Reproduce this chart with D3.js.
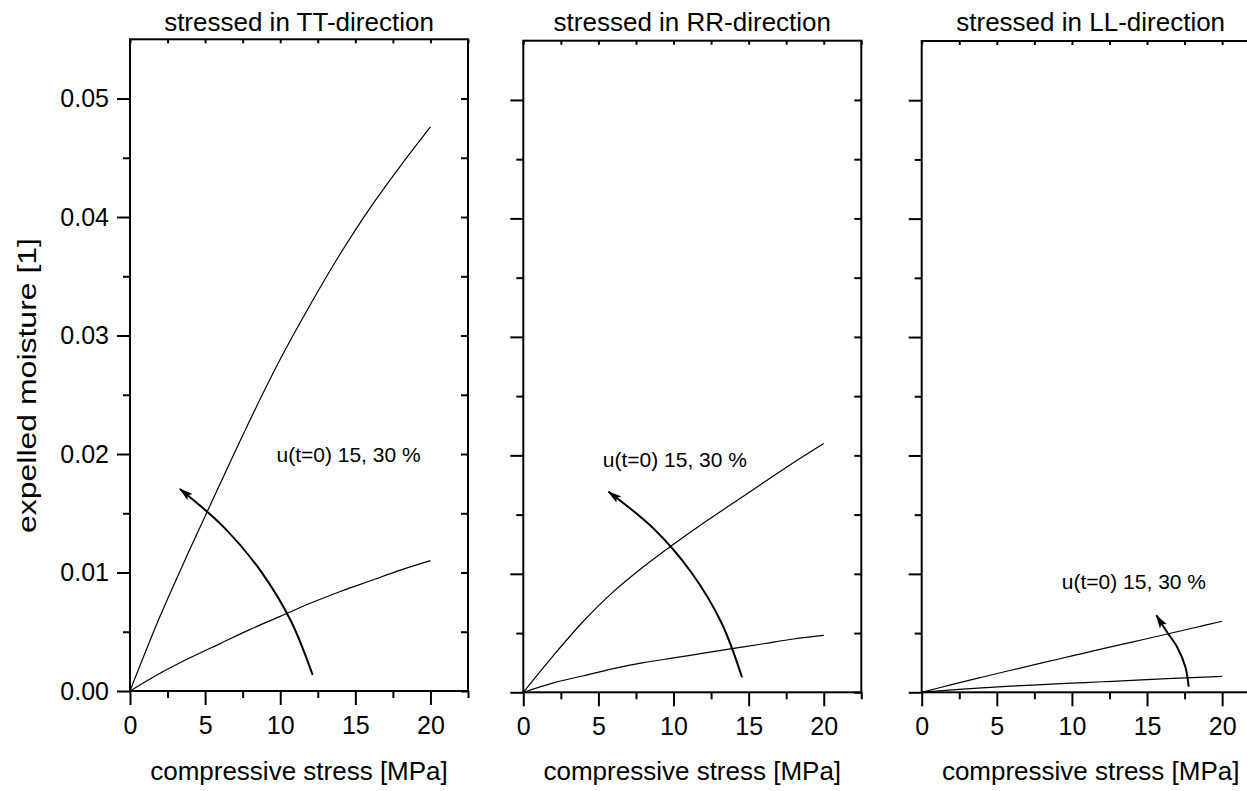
<!DOCTYPE html>
<html>
<head>
<meta charset="utf-8">
<script src="https://cdn.jsdelivr.net/npm/d3@7"></script>
<style>
  body { margin: 0; background: #fff; }
  svg { display: block; font-family: 'Liberation Sans', Arial, Helvetica, sans-serif; }
</style>
</head>
<body>
<div id="chart"></div>
<script>
const width = 1247;
const height = 791;

// compressive stress [MPa] at which the curves were read
const stress = [0, 2, 4, 6, 8, 10, 12, 14, 16, 18, 20];

// expelled moisture [1], two initial moisture contents per direction
const ttHigh = [0, 0.0063, 0.0120, 0.0175, 0.0229, 0.0280, 0.0326, 0.0369, 0.0408, 0.0443, 0.0476];
const ttLow = [0, 0.0015, 0.0028, 0.0040, 0.0052, 0.0063, 0.0074, 0.0084, 0.0093, 0.0102, 0.0110];
const rrHigh = [0, 0.0031, 0.0060, 0.0085, 0.0106, 0.0125, 0.0143, 0.0160, 0.0177, 0.0194, 0.0210];
const rrLow = [0, 0.0008, 0.0014, 0.0020, 0.0025, 0.0029, 0.0033, 0.0037, 0.0041, 0.0045, 0.0048];
const llHigh = [0, 0.00065, 0.00127, 0.00188, 0.00248, 0.00307, 0.00366, 0.00424, 0.00482, 0.00541, 0.00600];
const llLow = [0, 0.00021, 0.00038, 0.00052, 0.00065, 0.00077, 0.00089, 0.00100, 0.00113, 0.00124, 0.00135];

// curved arrows (stress, moisture), tail first
const arrowTT = [[12.16, 0.00135], [10.72, 0.00589], [8.74, 0.01006], [6.24, 0.01383], [3.32, 0.01705]];
const arrowRR = [[14.56, 0.00127], [13.19, 0.00587], [11.2, 0.01009], [8.67, 0.01382], [5.67, 0.01693]];
const arrowLL = [[17.77, 0.00047], [17.55, 0.00215], [17.0, 0.00383], [16.33, 0.00509], [15.62, 0.0065]];

const titles = ['stressed in TT-direction', 'stressed in RR-direction', 'stressed in LL-direction'];
const noteText = 'u(t=0) 15, 30 %';
const notePos = [[9.75, 0.0193], [5.29, 0.0190], [9.33, 0.0087]];

const xMajor = [0, 5, 10, 15, 20];
const xMinor = [2.5, 7.5, 12.5, 17.5, 22.5];
const yMajor = [0, 0.01, 0.02, 0.03, 0.04, 0.05];
const yMinor = [0.005, 0.015, 0.025, 0.035, 0.045];

const xLabel = 'compressive stress [MPa]';
const yLabel = 'expelled moisture [1]';

const panels = [
    { left: 130, top: 39.3, bottom: 691, high: ttHigh, low: ttLow, arrow: arrowTT },
    { left: 523.3, top: 40.7, bottom: 692.3, high: rrHigh, low: rrLow, arrow: arrowRR },
    { left: 921.7, top: 41, bottom: 692.3, high: llHigh, low: llLow, arrow: arrowLL }
];
const panelWidth = 338;

const svg = d3.select('#chart')
    .append('svg')
    .attr('width', width)
    .attr('height', height);

svg.append('rect').attr('width', width).attr('height', height).attr('fill', '#fff');

svg.append('defs')
    .append('marker')
    .attr('id', 'head')
    .attr('viewBox', '0 0 14 8')
    .attr('refX', 13)
    .attr('refY', 4)
    .attr('markerWidth', 14)
    .attr('markerHeight', 8)
    .attr('markerUnits', 'userSpaceOnUse')
    .attr('orient', 'auto')
    .append('path')
    .attr('d', 'M0,0 L14,4 L0,8 L3,4 Z')
    .attr('fill', '#000');

panels.forEach((p, i) => drawPanel(p, i));

// y label only once, left of first panel
svg.append('text')
    .attr('transform', 'translate(36,385.5) rotate(-90)')
    .attr('text-anchor', 'middle')
    .attr('textLength', 295)
    .attr('lengthAdjust', 'spacingAndGlyphs')
    .style('font-size', '26px')
    .text(yLabel);

function drawPanel(p, i) {
    const right = p.left + panelWidth;

    const xScale = d3.scaleLinear().domain([0, 22.5]).range([p.left, right]);
    const yScale = d3.scaleLinear().domain([0, 0.055]).range([p.bottom, p.top]);

    const g = svg.append('g').attr('class', 'panel');

    // bottom: outward ticks with labels
    g.append('g')
        .attr('transform', `translate(0,${p.bottom})`)
        .call(d3.axisBottom(xScale).tickValues(xMajor).tickSize(14).tickPadding(11).tickFormat(d3.format('d')))
        .call(styleAxis)
        .selectAll('text')
        .style('font-size', '25px');
    g.append('g')
        .attr('transform', `translate(0,${p.bottom})`)
        .call(d3.axisBottom(xScale).tickValues(xMinor).tickSize(7).tickFormat(''))
        .call(styleAxis);

    // top: small inward ticks
    g.append('g')
        .attr('transform', `translate(0,${p.top})`)
        .call(d3.axisBottom(xScale).tickValues(xMajor.concat(xMinor)).tickSize(4).tickFormat(''))
        .call(styleAxis);

    // left: outward ticks, labels only on the first panel
    const yAxis = d3.axisLeft(yScale).tickValues(yMajor).tickSize(13).tickPadding(8)
        .tickFormat(i === 0 ? d3.format('.2f') : '');
    g.append('g')
        .attr('transform', `translate(${p.left},0)`)
        .call(yAxis)
        .call(styleAxis)
        .selectAll('text')
        .style('font-size', '25px');
    g.append('g')
        .attr('transform', `translate(${p.left},0)`)
        .call(d3.axisLeft(yScale).tickValues(yMinor).tickSize(7).tickFormat(''))
        .call(styleAxis);

    // right: inward ticks
    g.append('g')
        .attr('transform', `translate(${right},0)`)
        .call(d3.axisLeft(yScale).tickValues(yMajor.concat(yMinor)).tickSize(7).tickFormat(''))
        .call(styleAxis);

    // frame
    g.append('rect')
        .attr('x', p.left)
        .attr('y', p.top)
        .attr('width', right - p.left)
        .attr('height', p.bottom - p.top)
        .attr('fill', 'none')
        .attr('stroke', '#000')
        .attr('stroke-width', 2);

    const line = d3.line()
        .x((d, k) => xScale(stress[k]))
        .y((d) => yScale(d))
        .curve(d3.curveCatmullRom);

    g.selectAll('path.curve')
        .data([p.high, p.low])
        .join('path')
        .attr('class', 'curve')
        .attr('d', line)
        .attr('fill', 'none')
        .attr('stroke', '#000')
        .attr('stroke-width', 1.2);

    const arrowLine = d3.line()
        .x((d) => xScale(d[0]))
        .y((d) => yScale(d[1]))
        .curve(d3.curveCatmullRom);

    g.append('path')
        .attr('d', arrowLine(p.arrow))
        .attr('fill', 'none')
        .attr('stroke', '#000')
        .attr('stroke-width', 2)
        .attr('marker-end', 'url(#head)');

    g.append('text')
        .attr('x', xScale(notePos[i][0]))
        .attr('y', yScale(notePos[i][1]))
        .style('font-size', '21px')
        .text(noteText);

    g.append('text')
        .attr('x', (p.left + right) / 2)
        .attr('y', 31)
        .attr('text-anchor', 'middle')
        .style('font-size', '26px')
        .text(titles[i]);

    g.append('text')
        .attr('x', (p.left + right) / 2)
        .attr('y', 780)
        .attr('text-anchor', 'middle')
        .style('font-size', '26px')
        .text(xLabel);
}

function styleAxis(sel) {
    sel.select('.domain').remove();
    sel.selectAll('line').attr('stroke', '#000').attr('stroke-width', 2);
    sel.selectAll('text').attr('fill', '#000').style('font-family', "'Liberation Sans', Arial, sans-serif");
}
</script>
</body>
</html>
